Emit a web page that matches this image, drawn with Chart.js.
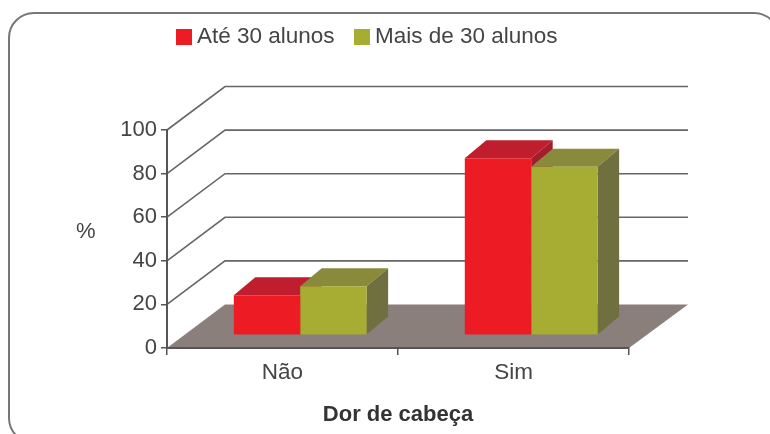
<!DOCTYPE html>
<html>
<head>
<meta charset="utf-8">
<style>
  html, body { margin: 0; padding: 0; background: #fff; overflow: hidden; }
  #frame { position: absolute; left: 8px; top: 12px; width: 772px; height: 432px; box-sizing: border-box;
           border: 2px solid #777; border-radius: 26px; }
  canvas { position: absolute; left: 0; top: 0; }
</style>
</head>
<body>
<div id="frame"></div>
<canvas id="chart" width="770" height="434"></canvas>
<script src="https://cdn.jsdelivr.net/npm/chart.js@4"></script>
<script>
const categories = ["Não", "Sim"];
const seriesNames = ["Até 30 alunos", "Mais de 30 alunos"];
const ate30 = [18.4, 81.2];
const mais30 = [22.5, 77.3];
const yTicks = [0, 20, 40, 60, 80, 100];

const colors = ["#ed1c24", "#a6ad32"];
const topColors = ["#be1e2d", "#8a8a3c"];
const sideColors = ["#a31d2a", "#6f6f3f"];

const wallDx = 58, wallDy = -43.5;   // depth of the whole box
const barDx = 21.5, barDy = -18;     // depth of one bar
const shiftX = 17.7, shiftY = -12.7; // bars stand in the middle of the floor

function poly(ctx, pts, fill) {
  ctx.beginPath();
  ctx.moveTo(pts[0][0], pts[0][1]);
  pts.slice(1).forEach(p => ctx.lineTo(p[0], p[1]));
  ctx.closePath();
  ctx.fillStyle = fill;
  ctx.fill();
}

// Floor and back wall grid
const wallPlugin = {
  id: "wall",
  beforeDraw(chart) {
    const { ctx, chartArea: a, scales: { y } } = chart;
    ctx.save();
    poly(ctx, [[a.left, a.bottom], [a.left + wallDx, a.bottom + wallDy],
               [a.right + wallDx + 1, a.bottom + wallDy], [a.right, a.bottom]], "#8b7f7b");
    ctx.strokeStyle = "#666";
    ctx.lineWidth = 1.6;
    yTicks.filter(t => t > 0).forEach(t => {
      const py = y.getPixelForValue(t);
      ctx.beginPath();
      ctx.moveTo(a.left, py);
      ctx.lineTo(a.left + wallDx, py + wallDy);
      ctx.lineTo(a.right + wallDx + 1, py + wallDy);
      ctx.stroke();
    });
    ctx.restore();
  }
};

// Top and side of each bar, the library then paints the fronts on top
const barPlugin = {
  id: "bars3d",
  beforeDatasetsDraw(chart) {
    const ctx = chart.ctx;
    ctx.save();
    chart.data.datasets.forEach((ds, i) => {
      chart.getDatasetMeta(i).data.forEach(bar => {
        const l = bar.x - bar.width / 2 + shiftX, r = bar.x + bar.width / 2 + shiftX;
        const t = bar.y + shiftY, b = bar.base + shiftY;
        poly(ctx, [[l, t], [r, t], [r + barDx, t + barDy], [l + barDx, t + barDy]], topColors[i]);
        poly(ctx, [[r, t], [r + barDx, t + barDy], [r + barDx, b + barDy], [r, b]], sideColors[i]);
      });
    });
    ctx.translate(shiftX, shiftY);
  },
  afterDatasetsDraw(chart) {
    chart.ctx.restore();
  }
};

// Legend and the horizontal % title
const labelPlugin = {
  id: "labels",
  afterDraw(chart) {
    const ctx = chart.ctx;
    ctx.save();
    ctx.font = "22.5px 'Liberation Sans'";
    ctx.textBaseline = "alphabetic";
    ctx.textAlign = "left";
    [176, 354].forEach((x, i) => {
      ctx.fillStyle = colors[i];
      ctx.fillRect(x, 29, 16, 16);
      ctx.fillStyle = "#444";
      ctx.fillText(seriesNames[i], x + 21, 43);
    });
    ctx.font = "22px 'Liberation Sans'";
    ctx.fillText("%", 76, 238);
    ctx.restore();
  }
};

new Chart(document.getElementById("chart").getContext("2d"), {
  type: "bar",
  data: {
    labels: categories,
    datasets: [
      { label: seriesNames[0], data: ate30, backgroundColor: colors[0] },
      { label: seriesNames[1], data: mais30, backgroundColor: colors[1] }
    ]
  },
  plugins: [wallPlugin, barPlugin, labelPlugin],
  options: {
    responsive: false,
    animation: false,
    categoryPercentage: 0.575,
    barPercentage: 1,
    layout: { padding: { top: 130, right: 141, left: 0, bottom: 0 } },
    plugins: { legend: { display: false }, tooltip: { enabled: false } },
    scales: {
      x: {
        afterFit(s) { s.height = 86; },
        grid: { drawOnChartArea: false, color: "#555", tickLength: 7, lineWidth: 1.5 },
        border: { color: "#555", width: 2 },
        ticks: { color: "#444", padding: 4, font: { size: 22.5, family: "'Liberation Sans'" } },
        title: {
          display: true,
          text: "Dor de cabeça",
          color: "#333",
          padding: { top: 6, bottom: 6 },
          font: { size: 22, weight: "bold", family: "'Liberation Sans'" }
        }
      },
      y: {
        min: 0,
        max: 100,
        afterFit(s) { s.width = 167; },
        afterBuildTicks(s) { s.ticks = yTicks.map(v => ({ value: v })); },
        grid: { drawOnChartArea: false, color: "#555", tickLength: 6, lineWidth: 1.5 },
        border: { color: "#555", width: 2 },
        ticks: { color: "#444", padding: 4, font: { size: 22, family: "'Liberation Sans'" } }
      }
    }
  }
});
</script>
</body>
</html>
